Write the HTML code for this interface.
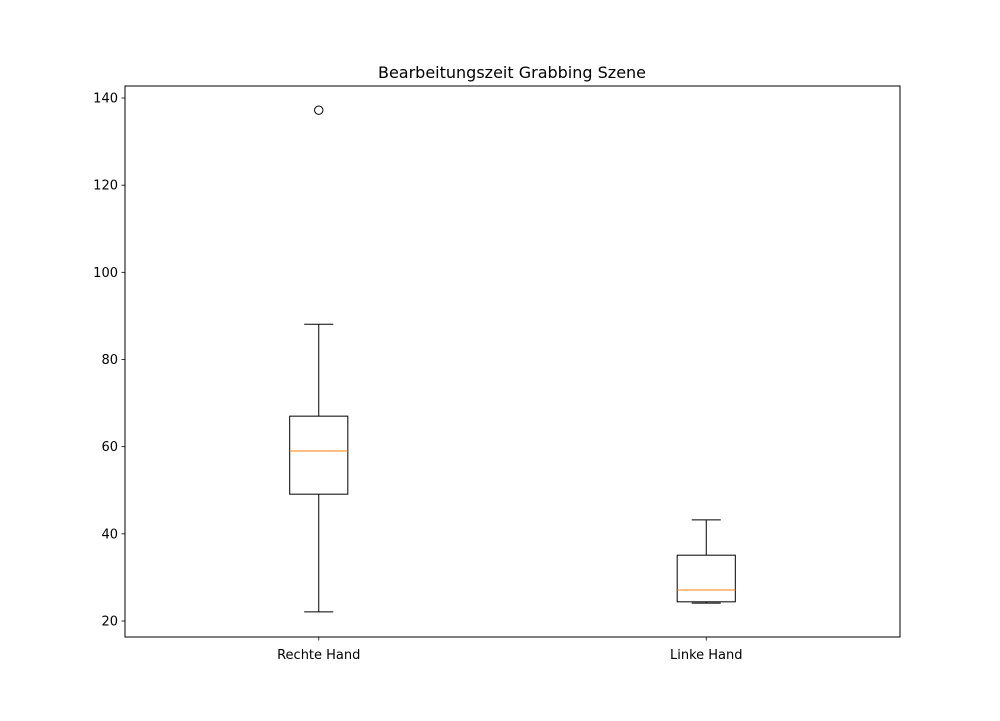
<!DOCTYPE html>
<html><head><meta charset="utf-8"><style>
html,body{margin:0;padding:0;background:#fff;}
svg text{font-family:"DejaVu Sans","Liberation Sans",sans-serif;}
</style></head><body>
<svg id="chart" width="1000" height="716" xmlns="http://www.w3.org/2000/svg">
<rect width="1000" height="716" fill="#fff"/>
<text x="512" y="78" font-size="16" text-anchor="middle" fill="#000">Bearbeitungszeit Grabbing Szene</text>
<g id="plot"></g>
<rect x="125" y="86" width="775" height="551" fill="none" stroke="#000" stroke-width="1"/>
</svg>
<script>
const categories = ["Rechte Hand", "Linke Hand"];
const whiskerLow = [22.1, 24.1];
const q1 = [49.1, 24.4];
const medians = [59.0, 27.1];
const q3 = [67.0, 35.1];
const whiskerHigh = [88.1, 43.2];
const outliers = [[137.2], []];
const yTicks = [20, 40, 60, 80, 100, 120, 140];

const L=125,R=900,T=86,B=637, yMin=16.33, yMax=142.75, xMin=0.5, xMax=2.5;
const sx = v => L + (v-xMin)/(xMax-xMin)*(R-L);
const sy = v => B - (v-yMin)/(yMax-yMin)*(B-T);
const g = document.getElementById('plot');
const NS = "http://www.w3.org/2000/svg";
function mk(tag, attrs){const e=document.createElementNS(NS,tag);for(const k in attrs)e.setAttribute(k,attrs[k]);g.appendChild(e);return e;}

yTicks.forEach(t=>{
  const y=sy(t);
  const tk=mk('line',{x1:L-3.5,x2:L,y1:y,y2:y,stroke:'#000','stroke-width':0.8});
  
  
  const lb=mk('text',{x:L-7,y:y+4.5,'font-size':13,'text-anchor':'end',fill:'#000'});
  lb.textContent=t;
  
  
});

categories.forEach((c,i)=>{
  const xc=sx(i+1), hw=(sx(1.075)-sx(1)), cw=hw/2;
  const tk=mk('line',{x1:xc,x2:xc,y1:B,y2:B+3.5,stroke:'#000','stroke-width':0.8});
  
  
  const lb=mk('text',{x:xc,y:B+22,'font-size':13,'text-anchor':'middle',fill:'#000'});
  lb.textContent=c;
  
  

  const wl=mk('line',{x1:xc,x2:xc,y1:sy(whiskerLow[i]),y2:sy(q1[i]),stroke:'#000','stroke-width':1});
  
  
  const wh=mk('line',{x1:xc,x2:xc,y1:sy(q3[i]),y2:sy(whiskerHigh[i]),stroke:'#000','stroke-width':1});
  
  
  const cl=mk('line',{x1:xc-cw,x2:xc+cw,y1:sy(whiskerLow[i]),y2:sy(whiskerLow[i]),stroke:'#000','stroke-width':1});
  
  
  const ch=mk('line',{x1:xc-cw,x2:xc+cw,y1:sy(whiskerHigh[i]),y2:sy(whiskerHigh[i]),stroke:'#000','stroke-width':1});
  
  
  const bx=mk('rect',{x:xc-hw,y:sy(q3[i]),width:2*hw,height:sy(q1[i])-sy(q3[i]),fill:'none',stroke:'#000','stroke-width':1});
  
  
  const md=mk('line',{x1:xc-hw,x2:xc+hw,y1:sy(medians[i]),y2:sy(medians[i]),stroke:'#ff7f0e','stroke-width':1});
  
  
  outliers[i].forEach(v=>{
    const o=mk('circle',{cx:xc,cy:sy(v),r:4.2,fill:'none',stroke:'#000','stroke-width':1});
    
    
  });
});
</script>
</body></html>
